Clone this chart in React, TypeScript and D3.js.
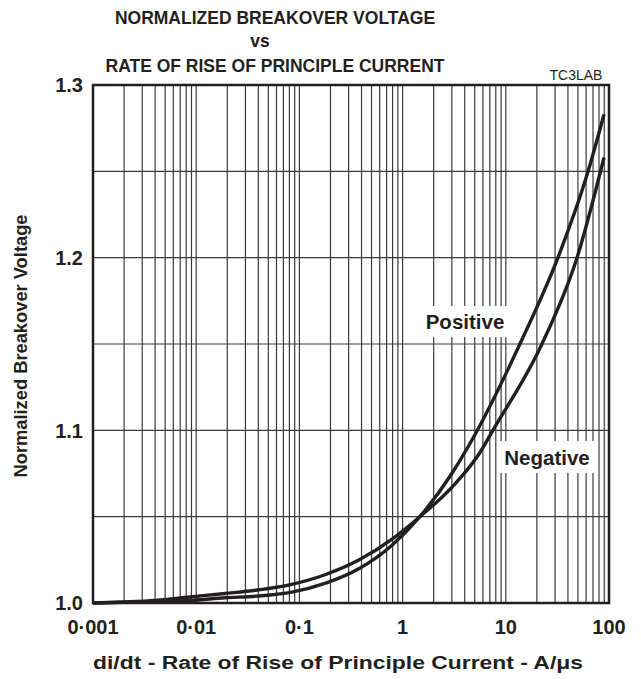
import * as d3 from 'd3';
import React from 'react';

const titleLines = ['NORMALIZED BREAKOVER VOLTAGE', 'vs', 'RATE OF RISE OF PRINCIPLE CURRENT'];
const figureCode = 'TC3LAB';
const xAxisTitle = 'di/dt - Rate of Rise of Principle Current - A/\u03bcs';
const yAxisTitle = 'Normalized Breakover Voltage';

const xTickValues = [0.001, 0.01, 0.1, 1, 10, 100];
const xTickLabels = ['0\u00b7001', '0\u00b701', '0\u00b71', '1', '10', '100'];
const yTickValues = [1.0, 1.1, 1.2, 1.3];
const yTickLabels = ['1.0', '1.1', '1.2', '1.3'];

// Positive curve (ends on top at the right)
const posX = [0.001, 0.004, 0.0087, 0.019, 0.039, 0.08, 0.18, 0.38, 0.79, 1.47, 3.0, 4.7, 13.7, 32, 62.7, 89.5];
const posY = [1.0, 1.0008, 1.0015, 1.003, 1.004, 1.006, 1.0115, 1.02, 1.0335, 1.05, 1.075, 1.0944, 1.15, 1.2, 1.25, 1.283];

// Negative curve
const negX = [0.001, 0.002, 0.004, 0.0087, 0.019, 0.039, 0.08, 0.18, 0.38, 0.79, 1.47, 3.0, 5.6, 7.5, 22.4, 49, 89.5];
const negY = [1.0, 1.0006, 1.0015, 1.0035, 1.0055, 1.0075, 1.0105, 1.0165, 1.025, 1.037, 1.05, 1.067, 1.087, 1.1, 1.15, 1.2, 1.258];

const font = '"Liberation Sans", Arial, Helvetica, sans-serif';
const ink = '#231f20';

const plot = { left: 93, right: 609, top: 85, bottom: 603 };

function App() {
  const x = d3.scaleLog().domain([0.001, 100]).range([plot.left, plot.right]);
  const y = d3.scaleLinear().domain([1.0, 1.3]).range([plot.bottom, plot.top]);

  // minor grid: 1..9 in every decade
  const vGrid: number[] = [];
  for (let e = -3; e < 2; e++) {
    for (let k = 1; k < 10; k++) vGrid.push(k * Math.pow(10, e));
  }
  vGrid.push(100);
  const hGrid = d3.range(0, 7).map((i) => 1 + i * 0.05);

  const line = d3
    .line<[number, number]>()
    .x((d) => x(d[0]))
    .y((d) => y(d[1]))
    .curve(d3.curveMonotoneX);

  const posPath = line(posX.map((v, i) => [v, posY[i]]));
  const negPath = line(negX.map((v, i) => [v, negY[i]]));

  return (
    <svg width={641} height={679} style={{ position: 'absolute', left: 0, top: 0, background: '#fff' }} fontFamily={font}>
      <rect x={0} y={0} width={641} height={679} fill="#fff" />
      {titleLines.map((t, i) => (
        <text key={t} x={i === 1 ? 260 : 275} y={[24, 47, 72][i]} textAnchor="middle" fontSize={17.5} fontWeight="bold" fill={ink}>
          {t}
        </text>
      ))}
      <text x={576} y={80} textAnchor="middle" fontSize={14} fill={ink}>
        {figureCode}
      </text>

      {/* grid */}
      {vGrid.map((v) => (
        <line key={'v' + v} x1={x(v)} x2={x(v)} y1={plot.top} y2={plot.bottom} stroke="#3a3a3a" strokeWidth={1.2} />
      ))}
      {hGrid.map((v) => (
        <line key={'h' + v} x1={plot.left} x2={plot.right} y1={y(v)} y2={y(v)} stroke="#3a3a3a" strokeWidth={1.2} />
      ))}

      {/* label backgrounds */}
      <rect x={420} y={306} width={90} height={31} fill="#fff" />
      <rect x={498} y={441} width={98} height={32} fill="#fff" />

      <path d={negPath ?? ''} fill="none" stroke={ink} strokeWidth={3.4} />
      <path d={posPath ?? ''} fill="none" stroke={ink} strokeWidth={3.4} />

      <text x={465} y={329} textAnchor="middle" fontSize={20.5} fontWeight="bold" fill={ink}>
        Positive
      </text>
      <text x={547} y={465} textAnchor="middle" fontSize={20.5} fontWeight="bold" fill={ink}>
        Negative
      </text>

      <rect x={plot.left} y={plot.top} width={plot.right - plot.left} height={plot.bottom - plot.top} fill="none" stroke={ink} strokeWidth={2.5} />

      {yTickValues.map((v, i) => (
        <text key={'yt' + v} x={83} y={y(v)} dy="0.36em" textAnchor="end" fontSize={20} fontWeight="bold" fill={ink}>
          {yTickLabels[i]}
        </text>
      ))}
      {xTickValues.map((v, i) => (
        <text key={'xt' + v} x={x(v)} y={634} textAnchor="middle" fontSize={20} fontWeight="bold" fill={ink}>
          {xTickLabels[i]}
        </text>
      ))}

      <text x={338} y={669} textAnchor="middle" fontSize={18} fontWeight="bold" fill={ink} textLength={490} lengthAdjust="spacingAndGlyphs">
        {xAxisTitle}
      </text>
      <text transform={`translate(27, ${346}) rotate(-90)`} textAnchor="middle" fontSize={17.5} fontWeight="bold" fill={ink} textLength={263} lengthAdjust="spacingAndGlyphs">
        {yAxisTitle}
      </text>
    </svg>
  );
}

export default App;
